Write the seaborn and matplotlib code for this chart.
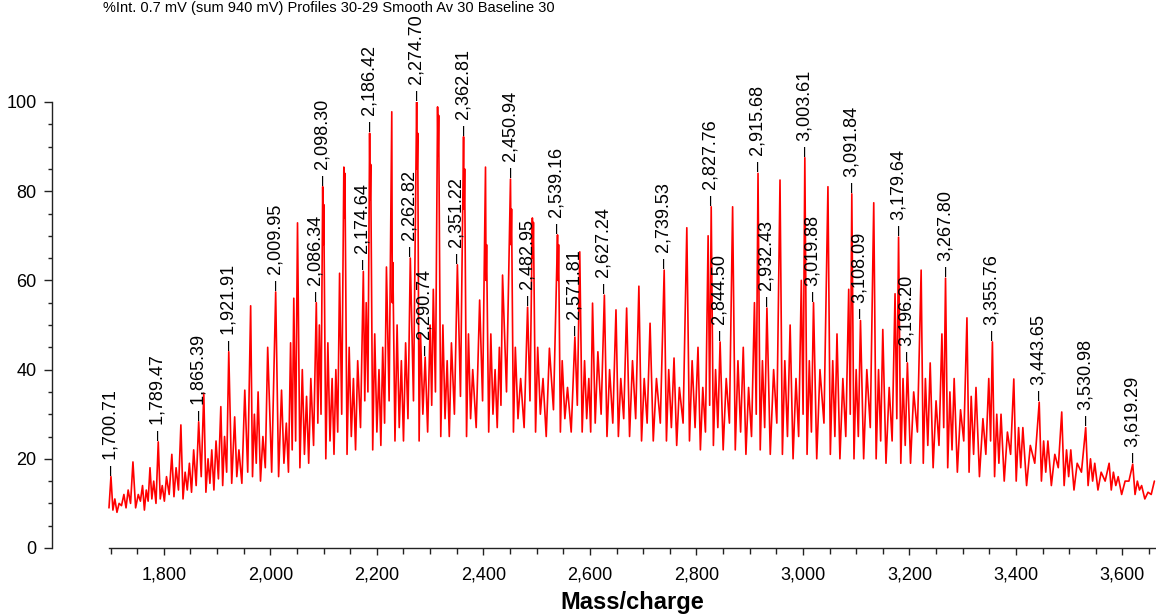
import numpy as np
import pandas as pd
import matplotlib
matplotlib.use("Agg")
import matplotlib.pyplot as plt
from matplotlib.ticker import FixedLocator, FuncFormatter
import seaborn as sns

# ---------------- data ----------------
# peak positions (m/z), peak tops (% intensity) and the valley level before each peak
peak_mz = [
    1700.7, 1708, 1716, 1725, 1733, 1742, 1752, 1760, 1767, 1774, 1781, 1789.5, 1797,
    1805, 1815, 1823, 1832, 1840, 1848, 1856, 1865.4, 1875, 1883, 1890, 1898, 1907,
    1914, 1921.9, 1933, 1941, 1952, 1963, 1970, 1977, 1986, 1995, 2010, 2021, 2030,
    2038, 2044, 2051, 2060, 2068, 2076, 2086.3, 2092, 2098.3, 2100.3, 2108, 2116, 2123, 2130,
    2138, 2140, 2148, 2156, 2164, 2174.6, 2180, 2186.4, 2188.4, 2196, 2204, 2211, 2218, 2228, 2230, 2238,
    2246, 2254, 2262.8, 2274.7, 2276.7, 2282, 2290.7, 2300, 2306, 2314, 2316, 2324, 2332, 2340,
    2351.2, 2362.8, 2364.8, 2372, 2380, 2393, 2404, 2406, 2414, 2422, 2430, 2436, 2450.9, 2452.9, 2460,
    2470, 2483, 2492, 2494, 2502, 2512, 2524, 2539.2, 2541.2, 2548, 2558, 2571.8, 2581, 2590, 2598,
    2605, 2615, 2627.2, 2637, 2649, 2658, 2669, 2680, 2692, 2702, 2713, 2725, 2739.5,
    2748, 2758, 2768, 2782, 2792, 2803, 2812, 2822, 2827.8, 2836, 2844.5, 2856, 2868,
    2878, 2888, 2898, 2909, 2915.7, 2924, 2932.4, 2945, 2957, 2966, 2976, 2987, 2997,
    3003.6, 3012, 3019.9, 3032, 3047, 3056, 3064, 3075, 3086, 3091.8, 3100, 3108.1,
    3120, 3133, 3142, 3150, 3162, 3173, 3179.6, 3188, 3196.2, 3208, 3222, 3230, 3239,
    3250, 3261, 3267.8, 3276, 3284, 3296, 3308, 3316, 3325, 3338, 3349, 3355.8, 3364,
    3372, 3384, 3396, 3405, 3413, 3427, 3443.7, 3452, 3460, 3473, 3486, 3495, 3503,
    3515, 3531, 3540, 3548, 3560, 3575, 3583, 3592, 3605, 3619.3, 3628, 3636, 3648,
    3660,
]
peak_int = [
    16, 11, 10, 12, 13, 19.3, 12, 14, 13, 18, 15, 23.8, 14,
    16, 21, 18, 27.6, 17, 19, 22, 28.3, 34.7, 20, 22, 24, 31.7,
    25, 44, 29.4, 22, 35.4, 54.3, 30, 35, 25, 45, 57.4, 35.4, 28,
    46, 56, 72.9, 40, 34, 38, 55, 50, 81, 77, 46, 38, 40, 61.6,
    85.4, 84, 45, 38, 42, 62, 55, 93, 86, 48, 40, 45, 63, 97.8, 64, 50,
    42, 46, 65, 100, 93, 48, 42.8, 50, 58, 98.9, 97, 50, 42, 46,
    63.5, 92.2, 85, 48, 40, 55.6, 85.4, 68, 48, 40, 45, 61.2, 82.7, 76, 45,
    38, 54, 74, 73, 45, 38, 44.8, 70.2, 68, 42, 36, 47.3, 66.4, 42, 38,
    54.9, 44, 56.7, 40, 53.4, 38, 53.8, 42, 58.7, 38, 50.4, 38, 62.3,
    40, 42.6, 36, 71.8, 42, 45, 36, 70, 76.5, 40, 46.2, 38, 76.5,
    42, 45, 36, 55, 84, 42, 53.8, 40, 82.5, 42, 50, 38, 60,
    87.5, 42, 55, 40, 81, 42, 48, 38, 58, 79.4, 40, 51,
    40, 77.4, 40, 49, 36, 57, 69.7, 38, 41.5, 35, 62.3, 38, 41.5,
    33, 48, 60.5, 35, 38, 31, 51.6, 34, 36, 29, 38, 46.2, 30,
    30, 26, 37.9, 27, 27, 23, 32.7, 24, 24, 21, 30.5, 22, 22,
    19, 27, 20, 19, 17, 19, 17, 16, 15, 18.8, 15, 14, 12.5,
    15,
]
peak_floor = [
    9, 8.5, 8, 9.5, 9, 10, 9, 10.5, 8.5, 10.5, 11, 10, 11,
    10.5, 12, 11.5, 13, 11, 13, 12.5, 14, 16, 12.5, 14.5, 13, 15.5,
    14, 17, 14.5, 16, 14.5, 17, 16, 19, 15, 18, 17, 16, 19,
    17, 22, 24, 18, 21, 19, 23, 28, 30, 68, 20, 24, 21, 26,
    30, 74, 21, 25, 22, 27, 33, 35, 78, 22, 26, 23, 28, 33, 55, 24,
    27, 24, 29, 33, 85, 24, 30, 26, 32, 35, 88, 25, 29, 25,
    30, 34, 76, 25, 29, 27, 33, 60, 26, 30, 27, 32, 35, 68, 26,
    29, 27, 33, 65, 26, 30, 25, 31, 60, 26, 29, 26, 32, 26, 29,
    26, 28, 30, 25, 28, 25, 29, 25, 29, 24, 28, 24, 28,
    24, 27, 23, 28, 24, 27, 22, 26, 32, 23, 27, 22, 28,
    22, 26, 21, 25, 30, 22, 27, 21, 28, 21, 25, 20, 25,
    30, 21, 26, 20, 28, 21, 25, 20, 25, 30, 20, 25,
    20, 27, 20, 24, 19, 24, 29, 19, 23, 19, 26, 19, 23,
    18, 23, 27, 18, 22, 17, 24, 17, 21, 16, 21, 24, 16,
    19, 15, 21, 15, 18, 14, 19, 15, 17, 14, 18, 14, 16,
    13, 17, 14, 15, 13, 15, 13, 14, 12, 15, 12, 13, 11,
    12,
]

# annotated peaks
label_mz = [1700.71, 1789.47, 1865.39, 1921.91, 2009.95, 2086.34, 2098.30, 2174.64,
            2186.42, 2262.82, 2274.70, 2290.74, 2351.22, 2362.81, 2450.94, 2482.95,
            2539.16, 2571.81, 2627.24, 2739.53, 2827.76, 2844.50, 2915.68, 2932.43,
            3003.61, 3019.88, 3091.84, 3108.09, 3179.64, 3196.20, 3267.80, 3355.76,
            3443.65, 3530.98, 3619.29]
label_int = [16, 23.8, 28.3, 44, 57.4, 55, 81, 62,
             93, 65, 100, 42.8, 63.5, 92.2, 82.7, 54,
             70.2, 47.3, 56.7, 62.3, 76.5, 46.2, 84, 53.8,
             87.5, 55, 79.4, 51, 69.7, 41.5, 60.5, 46.2,
             32.7, 27, 18.8]

y_ticks = [0, 20, 40, 60, 80, 100]
x_ticks = [1800, 2000, 2200, 2400, 2600, 2800, 3000, 3200, 3400, 3600]
header = "%Int. 0.7 mV (sum 940 mV) Profiles 30-29 Smooth Av 30 Baseline 30"

# ---------------- build the spectrum trace ----------------
xs, ys = [1697.0], [peak_floor[0]]
for i, (m, h, f) in enumerate(zip(peak_mz, peak_int, peak_floor)):
    if i > 0:
        xs.append((peak_mz[i - 1] + m) / 2)
        ys.append(f)
    xs.append(m)
    ys.append(h)
spec = pd.DataFrame({"mz": xs, "intensity": ys})

# ---------------- plot ----------------
sns.set_style("ticks")
plt.rcParams["font.family"] = ["Liberation Sans", "DejaVu Sans"]
plt.rcParams["text.color"] = "black"
plt.rcParams["axes.labelcolor"] = "black"
plt.rcParams["xtick.color"] = "black"
plt.rcParams["ytick.color"] = "black"

W, H = 1156, 615
fig = plt.figure(figsize=(W / 100, H / 100), dpi=100)
ax = fig.add_axes([52 / W, 1 - 548 / H, 1 - 52 / W, (548 - 102) / H])

sns.lineplot(data=spec, x="mz", y="intensity", sort=False, estimator=None,
             color="#ff0000", linewidth=1.2, ax=ax)

ax.set_xlim(1590, 3663)
ax.set_ylim(0, 100)
for s in ("top", "right"):
    ax.spines[s].set_visible(False)
ax.spines["left"].set_bounds(0, 100)
ax.spines["bottom"].set_bounds(1697, 3663)
for s in ("left", "bottom"):
    ax.spines[s].set_color("#222222")
    ax.spines[s].set_linewidth(1.0)

ax.xaxis.set_major_locator(FixedLocator(x_ticks))
ax.xaxis.set_minor_locator(FixedLocator(list(range(1700, 3651, 50))))
ax.xaxis.set_major_formatter(FuncFormatter(lambda v, p: f"{v:,.0f}"))
ax.yaxis.set_major_locator(FixedLocator(y_ticks))
ax.yaxis.set_minor_locator(FixedLocator(list(range(0, 101, 5))))
ax.tick_params(axis="x", which="major", length=5, width=1, labelsize=13, pad=8, color="#222222")
ax.tick_params(axis="x", which="minor", length=4, width=1, color="#222222")
ax.tick_params(axis="y", which="major", length=6, width=1, labelsize=13, pad=5, color="#222222")
ax.tick_params(axis="y", which="minor", length=3, width=1, color="#222222")

ax.set_xlabel("Mass/charge", fontsize=17, fontweight="bold")
ax.xaxis.label.set_va("center")
ax.xaxis.set_label_coords((632 - 52) / 1104, (548 - 603) / 446)
ax.set_ylabel("")

for m, h in zip(label_mz, label_int):
    ax.annotate(f"\u2013 {m:,.2f}", xy=(m, h), xytext=(0, 1.5), textcoords="offset points",
                rotation=90, ha="center", va="bottom", fontsize=13, clip_on=False,
                annotation_clip=False)

fig.text(103 / W, 1 - 1 / H, header, fontsize=10.5, va="top", ha="left")

fig.savefig("out.png", dpi=100)
